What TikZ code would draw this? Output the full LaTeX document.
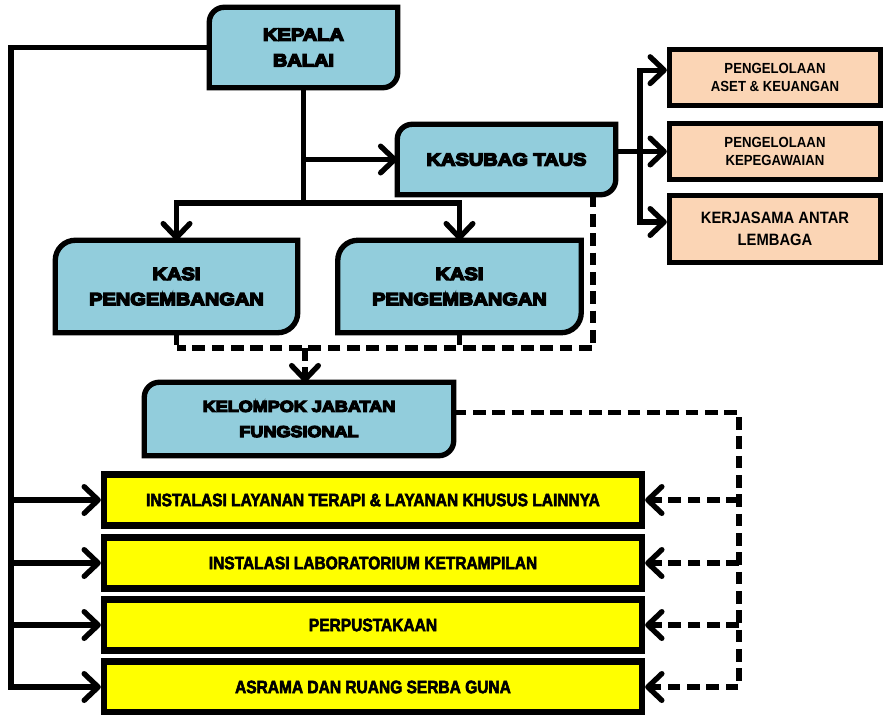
\documentclass[tikz,border=0pt]{standalone}
\usepackage{fontspec}
\usetikzlibrary{arrows.meta,backgrounds}
\newfontfamily\heavyfont{Liberation Sans}[UprightFont=* Bold, FakeStretch=1.14, FakeBold=8]
\newfontfamily\narrowfont{Liberation Sans}[UprightFont=* Bold, FakeStretch=0.86, FakeBold=3]
\newfontfamily\midfont{Liberation Sans}[UprightFont=* Bold, FakeStretch=0.9]
\definecolor{boxblue}{HTML}{92CDDC}
\definecolor{boxorange}{HTML}{FBD5B5}
\definecolor{boxyellow}{HTML}{FFFF00}
\newcommand\twocorner[2]{%
  \path[draw=black, fill=boxblue, line width=0.16cm]
    (#1.south west) -- ([yshift=-#2]#1.north west)
    arc[start angle=180,end angle=90,radius=#2]
    -- (#1.north east) -- ([yshift=#2]#1.south east)
    arc[start angle=0,end angle=-90,radius=#2] -- cycle;}
\begin{document}
\begin{tikzpicture}[x=0.03cm,y=0.03cm,
  bluetext/.style={inner sep=0pt, align=center, font=\heavyfont\fontsize{15}{24}\selectfont},
  orangebox/.style={draw=black, fill=boxorange, line width=0.16cm, inner sep=0pt, align=center,
     minimum width=211*0.03cm, font=\midfont\fontsize{12.5}{16}\selectfont},
  yellowbox/.style={draw=black, fill=boxyellow, line width=0.19cm, inner sep=0pt, align=center,
     minimum width=538*0.03cm, minimum height=51*0.03cm, font=\narrowfont\fontsize{15.4}{18}\selectfont},
  conn/.style={line width=0.16cm},
  dconn/.style={line width=0.16cm, dash pattern=on 0.38cm off 0.2cm},
  arr/.style={-{Straight Barb[length=0.42cm,width=0.8cm,round]}}]
\useasboundingbox (0,0) rectangle (884,-714);

% blue boxes (text nodes)
\node[bluetext, minimum width=188*0.03cm, minimum height=80*0.03cm] (kb) at (303.5,-47.5) {\raisebox{-0.12cm}{\shortstack{KEPALA\\[0.3cm]BALAI}}};
\node[bluetext, minimum width=218*0.03cm, minimum height=70*0.03cm] (ks) at (506.5,-159.5) {KASUBAG TAUS};
\node[bluetext, minimum width=242*0.03cm, minimum height=92*0.03cm, font=\heavyfont\fontsize{15}{21.5}\selectfont] (k1) at (176.5,-286.5) {KASI\\PENGEMBANGAN};
\node[bluetext, minimum width=243*0.03cm, minimum height=92*0.03cm, font=\heavyfont\fontsize{15}{21.5}\selectfont] (k2) at (459.5,-286.5) {KASI\\PENGEMBANGAN};
\node[bluetext, minimum width=309*0.03cm, minimum height=73*0.03cm, font=\heavyfont\fontsize{13.5}{21.5}\selectfont] (kj) at (299,-419) {KELOMPOK JABATAN\\FUNGSIONAL};

\begin{scope}[on background layer]
  \twocorner{kb}{0.45cm}
  \twocorner{ks}{0.45cm}
  \twocorner{k1}{0.6cm}
  \twocorner{k2}{0.6cm}
  \twocorner{kj}{0.45cm}
\end{scope}

% orange boxes
\node[orangebox, minimum height=56*0.03cm] (o1) at (775,-77.5) {PENGELOLAAN\\ASET \& KEUANGAN};
\node[orangebox, minimum height=56*0.03cm] (o2) at (775,-151.5) {PENGELOLAAN\\KEPEGAWAIAN};
\node[orangebox, minimum height=67*0.03cm, font=\midfont\fontsize{14}{19}\selectfont] (o3) at (775,-229) {KERJASAMA ANTAR\\LEMBAGA};

% yellow boxes
\node[yellowbox] (y1) at (373,-500) {INSTALASI LAYANAN TERAPI \& LAYANAN KHUSUS LAINNYA};
\node[yellowbox] (y2) at (373,-563) {INSTALASI LABORATORIUM KETRAMPILAN};
\node[yellowbox] (y3) at (373,-625) {PERPUSTAKAAN};
\node[yellowbox] (y4) at (373,-687) {ASRAMA DAN RUANG SERBA GUNA};

% coordinates
\coordinate (lx) at (11,0);
\coordinate (br) at (303.5,-203);
\coordinate (ox) at (640,0);
\coordinate (dx) at (593,-348);
\coordinate (rx) at (739,0);

% solid connectors
\draw[conn,arr] (kb.west) -- (lx |- kb.west) |- (y4.west);
\draw[conn,arr] (lx |- y1.west) -- (y1.west);
\draw[conn,arr] (lx |- y2.west) -- (y2.west);
\draw[conn,arr] (lx |- y3.west) -- (y3.west);
\draw[conn] (kb.south) -- (br);
\draw[conn,arr] (kb.south |- ks.west) -- (ks.west);
\draw[conn,arr] (br) -| (k1.north);
\draw[conn,arr] (br) -| (k2.north);
\draw[conn] (ks.east |- o2.west) -- (ox |- o2.west);
\draw[conn,arr] (ox |- o2.west) -- (o2.west);
\draw[conn,arr] (ox |- o2.west) |- ([yshift=0.22cm]o1.west);
\draw[conn,arr] (ox |- o2.west) |- ([yshift=0.21cm]o3.west);

% dashed connectors
\draw[dconn] (ks.south -| dx) -- (dx) -- (dx -| k1.south);
\draw[dconn] (k1.south) -- (k1.south |- dx);
\draw[dconn] (k2.south) -- (k2.south |- dx);
\draw[dconn,arr] ([xshift=0.18cm]kj.north |- dx) -- ([xshift=0.18cm]kj.north);
\draw[dconn,arr] ([yshift=0.2cm]kj.east) -| (rx |- y4.east) -- (y4.east);
\draw[dconn,arr] (rx |- y1.east) -- (y1.east);
\draw[dconn,arr] (rx |- y2.east) -- (y2.east);
\draw[dconn,arr] (rx |- y3.east) -- (y3.east);
\end{tikzpicture}
\end{document}
